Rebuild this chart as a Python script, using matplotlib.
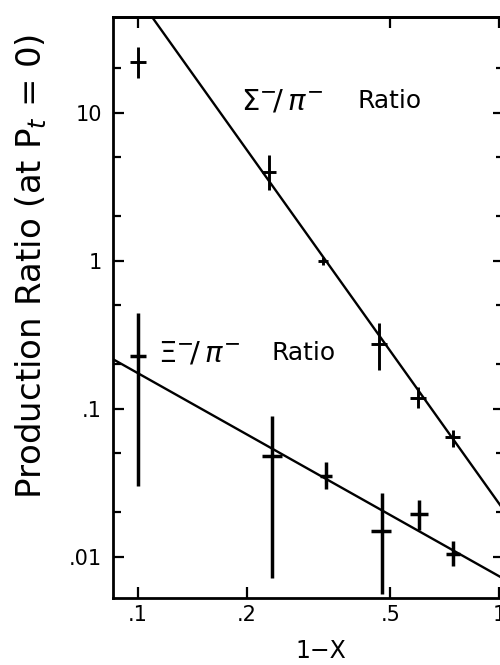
import numpy as np
import matplotlib
matplotlib.use("Agg")
import matplotlib.pyplot as plt
from matplotlib.ticker import FixedLocator, FixedFormatter, LogLocator, NullLocator, NullFormatter

plt.rcParams['font.family'] = ['DejaVu Sans']
plt.rcParams['mathtext.fontset'] = 'dejavusans'

# Sigma-/pi- production ratio vs 1-X
sigma_x = [0.10, 0.231, 0.326, 0.466, 0.598, 0.745]
sigma_y = [22.0, 3.95, 1.0, 0.273, 0.117, 0.064]
sigma_err_lo = [4.8, 0.95, 0.066, 0.091, 0.016, 0.0087]
sigma_err_hi = [5.8, 1.22, 0.057, 0.106, 0.023, 0.0077]
sigma_xerr = [0.005, 0.011, 0.011, 0.025, 0.030, 0.035]

# Xi-/pi- production ratio vs 1-X
xi_x = [0.10, 0.235, 0.333, 0.473, 0.601, 0.747]
xi_y = [0.227, 0.048, 0.035, 0.0149, 0.0193, 0.0104]
xi_err_lo = [0.197, 0.0408, 0.0065, 0.0093, 0.0042, 0.0017]
xi_err_hi = [0.214, 0.041, 0.0088, 0.0119, 0.0048, 0.0024]
xi_xerr = [0.005, 0.015, 0.013, 0.031, 0.034, 0.035]

# power-law fits: ratio = norm * (1-X)**slope
sigma_fit_norm, sigma_fit_slope = 0.0229, -3.42
xi_fit_norm, xi_fit_slope = 0.00738, -1.371

x_ticks = [0.1, 0.2, 0.5, 1.0]
x_ticklabels = ['.1', '.2', '.5', '1']
y_ticks = [0.01, 0.1, 1, 10]
y_ticklabels = ['.01', '.1', '1', '10']

W, H = 500, 665
fig = plt.figure(figsize=(W / 100, H / 100), dpi=100)
ax = fig.add_axes([0.226, 0.1008, 0.781, 0.8737])
ax.set_xscale('log')
ax.set_yscale('log')
ax.set_xlim(0.0853, 1.03)
ax.set_ylim(0.00525, 44.3)

xx = np.logspace(np.log10(0.0853), np.log10(1.03), 200)
ax.plot(xx, sigma_fit_norm * xx ** sigma_fit_slope, color='black', lw=1.7)
ax.plot(xx, xi_fit_norm * xx ** xi_fit_slope, color='black', lw=1.7)

ax.errorbar(sigma_x, sigma_y, yerr=[sigma_err_lo, sigma_err_hi], xerr=sigma_xerr,
            fmt='none', ecolor='black', elinewidth=2.1, capsize=0)
ax.errorbar(xi_x, xi_y, yerr=[xi_err_lo, xi_err_hi], xerr=xi_xerr,
            fmt='none', ecolor='black', elinewidth=2.5, capsize=0)

ax.xaxis.set_major_locator(FixedLocator(x_ticks))
ax.xaxis.set_major_formatter(FixedFormatter(x_ticklabels))
ax.xaxis.set_minor_locator(NullLocator())
ax.yaxis.set_major_locator(FixedLocator(y_ticks))
ax.yaxis.set_major_formatter(FixedFormatter(y_ticklabels))
ax.yaxis.set_minor_locator(LogLocator(base=10, subs=[2.0, 5.0]))
ax.yaxis.set_minor_formatter(NullFormatter())

ax.tick_params(axis='both', which='major', direction='in', length=8, width=1.6,
               labelsize=15, pad=5)
ax.tick_params(axis='y', which='major', pad=8)
ax.tick_params(axis='y', which='both', right=True)
ax.tick_params(axis='y', which='minor', direction='in', length=6, width=1.6)

top = ax.secondary_xaxis('top')
top.set_xticks([0.1, 0.5, 1.0])
top.xaxis.set_minor_locator(NullLocator())
top.tick_params(direction='in', length=8, width=1.6, labeltop=False)
top.spines['top'].set_linewidth(2.0)

for s in ax.spines.values():
    s.set_linewidth(2.0)


def px(x, y):
    """Figure-fraction coordinates from pixel position (origin top-left)."""
    return x / W, 1 - y / H


# curve labels: symbol part and the word "Ratio"
fig.text(*px(241, 101), r'$\Sigma^{-}\!/\,\pi^{-}$', fontsize=21, ha='left', va='center')
fig.text(*px(358, 101), 'Ratio', fontsize=18, ha='left', va='center')
fig.text(*px(158, 353), r'$\Xi^{-}\!/\,\pi^{-}$', fontsize=21, ha='left', va='center')
fig.text(*px(271, 353), 'Ratio', fontsize=18, ha='left', va='center')

fig.text(*px(31, 266), r'Production Ratio (at P$_{t}$ = 0)',
         rotation=90, ha='center', va='center', fontsize=24.5)
fig.text(*px(321, 651), '1\u2212X', ha='center', va='center', fontsize=17)

fig.savefig('out.png', dpi=100)
